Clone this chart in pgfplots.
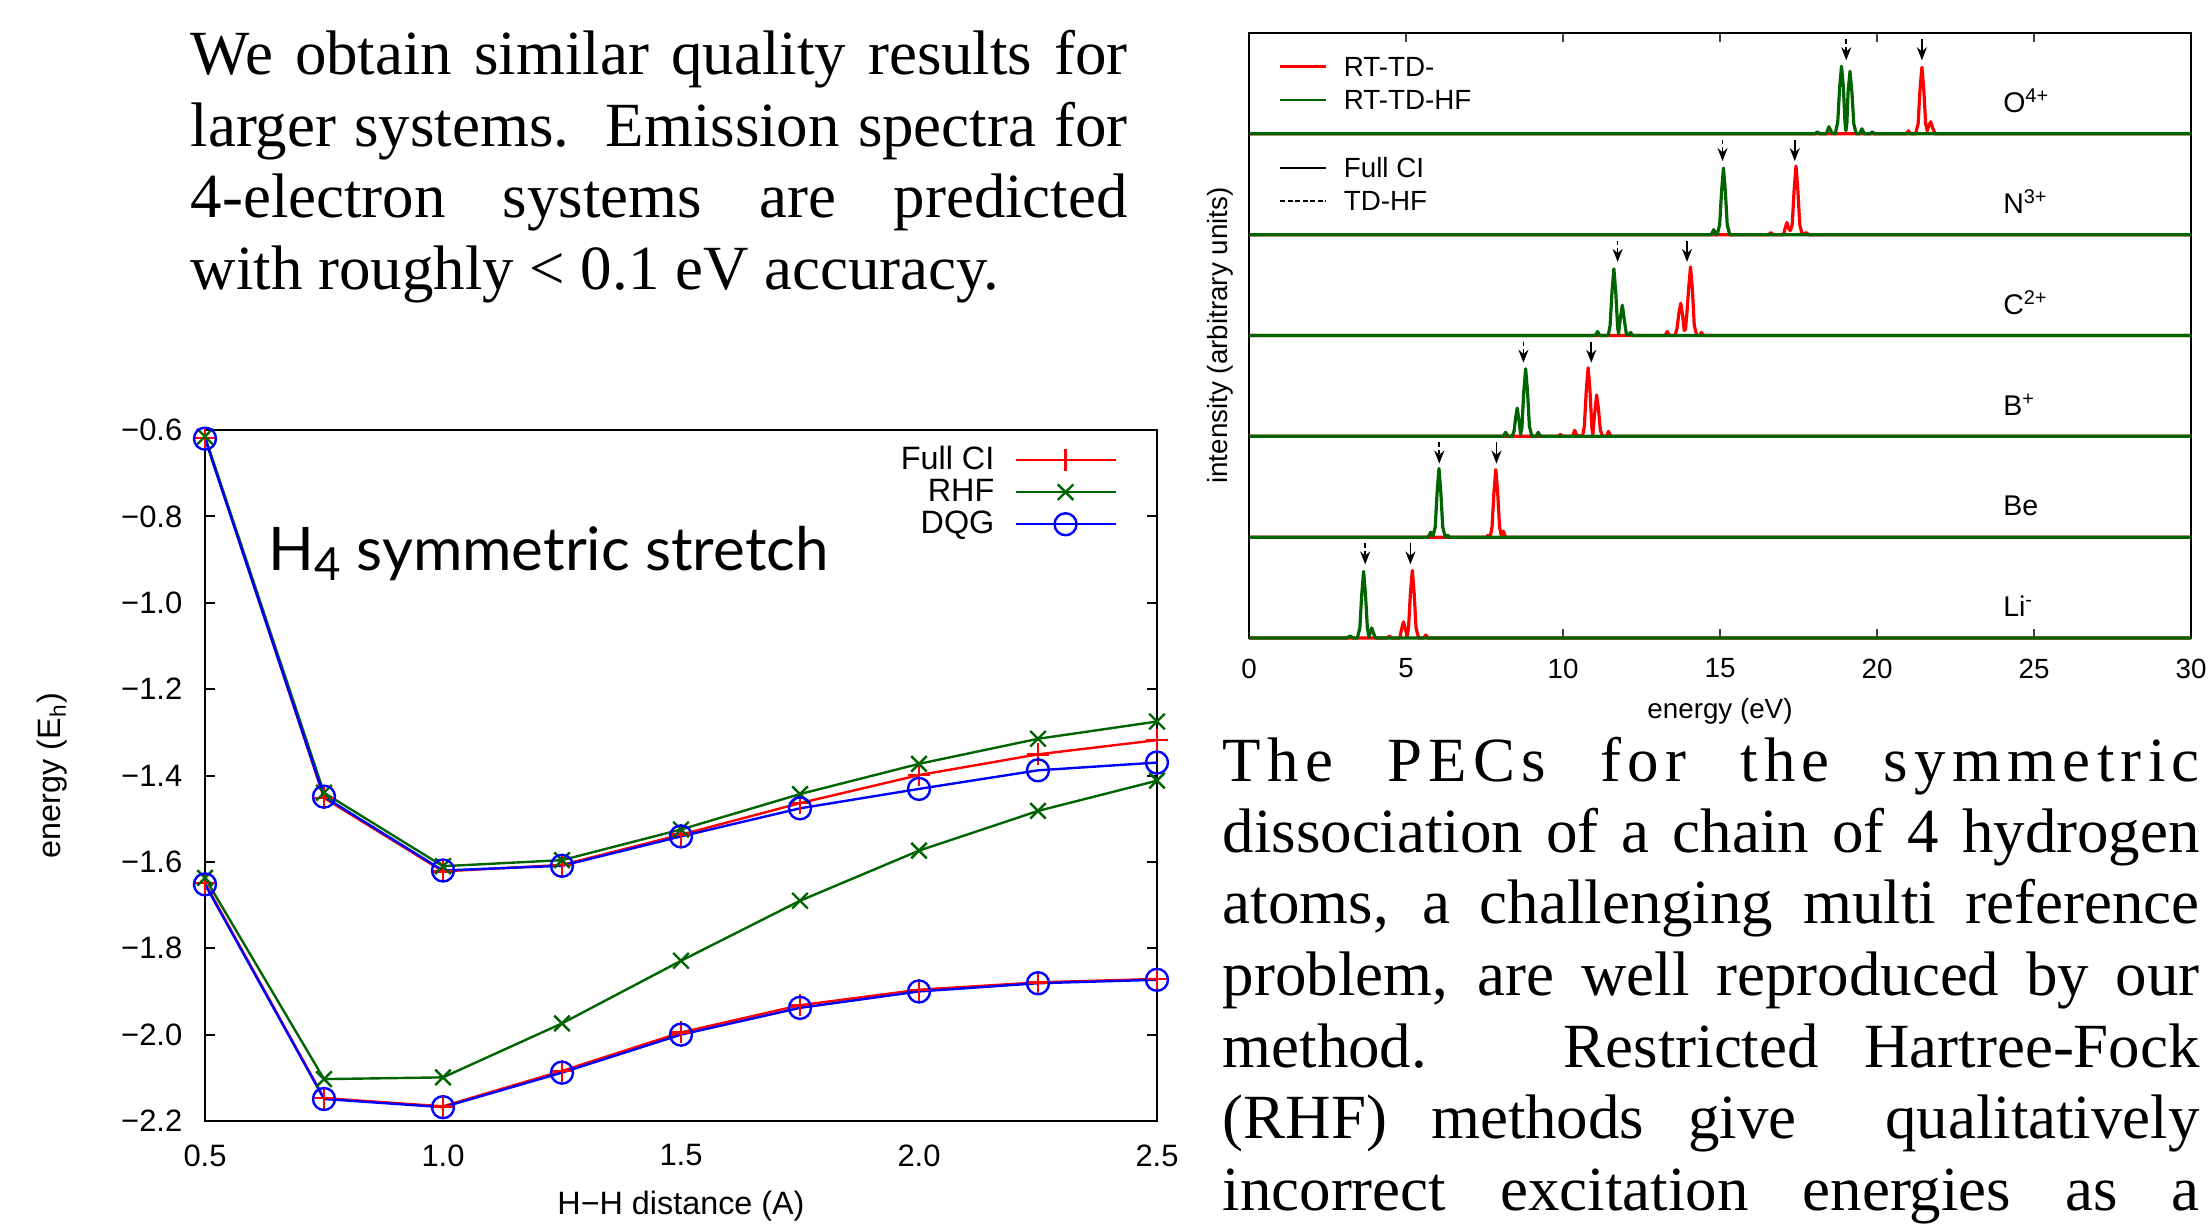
\documentclass[border=0pt]{standalone}
\usepackage{fontspec}
\setmainfont{Liberation Serif}
\newfontfamily\plotsans{Liberation Sans}
\newfontfamily\titlesans{Lato}
\usepackage{pgfplots}
\pgfplotsset{compat=1.18}
\usetikzlibrary{arrows.meta}

\definecolor{gpred}{RGB}{255,0,0}
\definecolor{gpgreen}{RGB}{0,100,0}
\definecolor{gpblue}{RGB}{0,0,255}

\newcommand{\bodytext}{\fontsize{17.9pt}{20pt}\selectfont}
\newcommand{\lefttick}{\plotsans\fontsize{8.8pt}{10pt}\selectfont}
\newcommand{\leftlab}{\plotsans\fontsize{9.2pt}{11pt}\selectfont}
\newcommand{\rightfont}{\plotsans\fontsize{7.9pt}{9pt}\selectfont}

\begin{document}
\begin{tikzpicture}
\useasboundingbox (0,0) rectangle (220.8mm,122.6mm);

% paragraph, top left
\begin{scope}[every node/.style={anchor=base west, inner sep=0pt, font=\bodytext}]
\node at (19.0mm,115.1mm) {\makebox[93.7mm][s]{We obtain similar quality results for}};
\node at (19.0mm,107.9mm) {\makebox[93.7mm][s]{larger systems.\ \ Emission spectra for}};
\node at (19.0mm,100.8mm) {\makebox[93.7mm][s]{4-electron systems are predicted}};
\node at (19.0mm,93.6mm) {with roughly < 0.1 eV accuracy.};
% paragraph, bottom right
\node at (122.2mm,44.5mm) {\makebox[97.7mm][s]{\addfontfeature{LetterSpace=10}The PECs for the symmetric}};
\node at (122.2mm,37.4mm) {\makebox[97.7mm][s]{dissociation of a chain of 4 hydrogen}};
\node at (122.2mm,30.3mm) {\makebox[97.7mm][s]{atoms, a challenging multi reference}};
\node at (122.2mm,23.1mm) {\makebox[97.7mm][s]{problem, are well reproduced by our}};
\node at (122.2mm,15.9mm) {\makebox[97.7mm][s]{method.\ \ \ Restricted Hartree-Fock}};
\node at (122.2mm,8.8mm) {\makebox[97.7mm][s]{(RHF) methods give\ \ qualitatively}};
\node at (122.2mm,1.6mm) {\makebox[97.7mm][s]{incorrect excitation energies as a}};
\end{scope}

% ---------------- H4 potential energy curves ----------------
\begin{axis}[
  at={(20.5mm,10.5mm)}, anchor=south west,
  scale only axis, width=95.2mm, height=69.1mm,
  xmin=0.5, xmax=2.5, ymin=-2.2, ymax=-0.6,
  clip=false,
  axis line style={line width=0.2mm},
  xtick={0.5,1,1.5,2,2.5}, xticklabels={0.5,1.0,1.5,2.0,2.5},
  ytick={-2.2,-2,-1.8,-1.6,-1.4,-1.2,-1,-0.8,-0.6},
  yticklabels={−2.2,−2.0,−1.8,−1.6,−1.4,−1.2,−1.0,−0.8,−0.6},
  tick align=inside, major tick length=1mm,
  xtick style={draw=none}, ytick style={line width=0.2mm, black},
  ytick pos=both,
  yticklabel style={font=\lefttick, anchor=east, inner sep=0pt, xshift=-2.2mm},
  xticklabel style={font=\lefttick, anchor=north, inner sep=0pt, yshift=-2.3mm},
  xlabel={H−H distance (A)}, ylabel={energy (E\textsubscript{h})},
  every axis x label/.style={at={(axis description cs:0.5,0)}, anchor=center, yshift=-8.5mm, font=\leftlab},
  every axis y label/.style={at={(axis description cs:0,0.5)}, xshift=-15.3mm, rotate=90, anchor=center, font=\leftlab},
  legend style={at={(rel axis cs:1,1)}, anchor=north east, xshift=-2.9mm, yshift=-0.8mm,
    draw=none, fill=none, font=\leftlab, row sep=0.3mm, column sep=2.0mm,
    nodes={inner sep=0pt, text height=2.4mm, text depth=0.5mm}},
  legend cell align=right, legend plot pos=right,
  legend image code/.code={\draw[mark repeat=2,mark phase=2,#1] plot coordinates {(0mm,0mm) (5mm,0mm) (10mm,0mm)};},
  every axis plot/.append style={line width=0.24mm, mark size=1.1mm, mark options={solid}},
]
% Full CI
\addplot[gpred, mark=+] coordinates {
  (0.5,-0.618) (0.75,-1.452) (1.0,-1.622) (1.25,-1.607) (1.5,-1.537)
  (1.75,-1.464) (2.0,-1.399) (2.25,-1.351) (2.5,-1.318)};
\addlegendentry{Full CI}
\addplot[gpred, mark=+, forget plot] coordinates {
  (0.5,-1.649) (0.75,-2.147) (1.0,-2.166) (1.25,-2.084) (1.5,-1.995)
  (1.75,-1.932) (2.0,-1.896) (2.25,-1.879) (2.5,-1.871)};
% RHF
\addplot[gpgreen, mark=x] coordinates {
  (0.5,-0.615) (0.75,-1.440) (1.0,-1.610) (1.25,-1.596) (1.5,-1.525)
  (1.75,-1.443) (2.0,-1.373) (2.25,-1.315) (2.5,-1.275)};
\addlegendentry{RHF}
\addplot[gpgreen, mark=x, forget plot] coordinates {
  (0.5,-1.637) (0.75,-2.103) (1.0,-2.099) (1.25,-1.974) (1.5,-1.829)
  (1.75,-1.690) (2.0,-1.574) (2.25,-1.482) (2.5,-1.412)};
% DQG
\addplot[gpblue, mark=o] coordinates {
  (0.5,-0.620) (0.75,-1.449) (1.0,-1.620) (1.25,-1.609) (1.5,-1.541)
  (1.75,-1.476) (2.0,-1.431) (2.25,-1.388) (2.5,-1.370)};
\addlegendentry{DQG}
\addplot[gpblue, mark=o, forget plot] coordinates {
  (0.5,-1.652) (0.75,-2.149) (1.0,-2.168) (1.25,-2.088) (1.5,-2.000)
  (1.75,-1.938) (2.0,-1.900) (2.25,-1.881) (2.5,-1.873)};
\end{axis}

% title of the PEC panel
\node[anchor=base west, inner sep=0pt, font=\titlesans\fontsize{17.1pt}{19pt}\selectfont]
  at (26.8mm,65.6mm) {H\raisebox{-0.35ex}{\fontsize{13pt}{14pt}\selectfont 4} symmetric stretch};

% ---------------- emission spectra ----------------
\begin{axis}[
  at={(124.9mm,58.8mm)}, anchor=south west,
  scale only axis, width=94.2mm, height=60.5mm,
  xmin=0, xmax=30, ymin=0, ymax=6,
  clip=false,
  axis line style={line width=0.2mm},
  xtick={0,5,...,30}, xticklabels={0,5,10,15,20,25,30},
  ytick=\empty,
  tick align=inside, major tick length=0.9mm, xtick pos=both,
  xtick style={line width=0.2mm, black!75},
  xticklabel style={font=\rightfont, anchor=north, inner sep=0pt, yshift=-2.0mm},
  xlabel={energy (eV)}, ylabel={intensity (arbitrary units)},
  every axis x label/.style={at={(axis description cs:0.5,0)}, anchor=center, yshift=-7.3mm, font=\rightfont},
  every axis y label/.style={at={(axis description cs:0,0.5)}, xshift=-2.9mm, rotate=90, anchor=center, font=\rightfont},
  every axis plot/.append style={line width=0.32mm, line join=round, no markers},
]
% RT-TD- (Full CI propagation), red
\addplot[gpred] coordinates {(0,0) (4.4,0) (4.47,0.02) (4.54,0) (4.8,0) (4.86,0.09) (4.92,0.16) (4.98,0.09) (5.04,0.02)
  (5.08,0.10) (5.14,0.44) (5.20,0.67) (5.26,0.44) (5.32,0.10) (5.40,0) (5.56,0) (5.63,0.03) (5.70,0) (30,0)};
\addplot[gpred] coordinates {(0,1) (7.55,1) (7.62,1.02) (7.68,1) (7.74,1.10) (7.80,1.44) (7.86,1.67) (7.92,1.44) (7.98,1.10)
  (8.03,1.02) (8.10,1.06) (8.17,1) (30,1)};
\addplot[gpred] coordinates {(0,2) (9.85,2) (9.92,2.02) (9.99,2) (10.30,2) (10.37,2.06) (10.44,2.01) (10.62,2) (10.68,2.10)
  (10.74,2.45) (10.80,2.68) (10.86,2.45) (10.92,2.08) (10.95,2.02) (11.00,2.20) (11.07,2.41) (11.13,2.27) (11.19,2.06)
  (11.26,2) (11.38,2) (11.45,2.05) (11.52,2) (30,2)};
\addplot[gpred] coordinates {(0,3) (13.25,3) (13.32,3.04) (13.39,3) (13.57,3) (13.63,3.07) (13.69,3.22) (13.75,3.32)
  (13.81,3.20) (13.86,3.05) (13.90,3.06) (13.94,3.20) (14.00,3.46) (14.06,3.68) (14.12,3.46) (14.18,3.10) (14.26,3)
  (14.34,3) (14.41,3.03) (14.48,3) (30,3)};
\addplot[gpred] coordinates {(0,4) (16.55,4) (16.62,4.02) (16.69,4) (17.02,4) (17.08,4.07) (17.13,4.12) (17.19,4.06)
  (17.24,4.04) (17.30,4.10) (17.36,4.44) (17.42,4.68) (17.48,4.44) (17.54,4.10) (17.62,4) (17.75,4.02) (17.82,4) (30,4)};
\addplot[gpred] coordinates {(0,5) (20.93,5) (21.00,5.03) (21.07,5) (21.23,5) (21.31,5.10) (21.37,5.44) (21.43,5.66)
  (21.49,5.44) (21.55,5.10) (21.60,5.03) (21.65,5.08) (21.71,5.12) (21.77,5.06) (21.85,5) (30,5)};
% RT-TD-HF, green
\addplot[gpgreen] coordinates {(0,0) (3.12,0) (3.22,0.02) (3.32,0) (3.45,0) (3.53,0.10) (3.59,0.43) (3.65,0.66)
  (3.71,0.43) (3.77,0.10) (3.82,0.01) (3.86,0.06) (3.91,0.10) (3.96,0.05) (4.03,0) (30,0)};
\addplot[gpgreen] coordinates {(0,1) (5.70,1) (5.79,1.05) (5.86,1.01) (5.93,1.10) (5.99,1.44) (6.05,1.68) (6.11,1.44)
  (6.17,1.10) (6.25,1) (6.32,1.02) (6.40,1) (30,1)};
\addplot[gpgreen] coordinates {(0,2) (8.10,2) (8.17,2.04) (8.25,2) (8.38,2) (8.44,2.05) (8.49,2.18) (8.54,2.28)
  (8.59,2.18) (8.65,2.02) (8.69,2.08) (8.75,2.44) (8.81,2.67) (8.87,2.44) (8.93,2.10) (9.01,2) (9.14,2) (9.21,2.04)
  (9.28,2) (30,2)};
\addplot[gpgreen] coordinates {(0,3) (11.03,3) (11.10,3.04) (11.17,3) (11.44,3) (11.50,3.10) (11.56,3.43) (11.62,3.66)
  (11.68,3.43) (11.74,3.08) (11.77,3.02) (11.82,3.16) (11.89,3.30) (11.95,3.16) (12.02,3.01) (12.08,3) (12.15,3.03)
  (12.22,3) (30,3)};
\addplot[gpgreen] coordinates {(0,4) (14.72,4) (14.80,4.05) (14.88,4) (14.91,4) (14.99,4.10) (15.05,4.43) (15.11,4.66)
  (15.17,4.43) (15.23,4.10) (15.31,4) (30,4)};
\addplot[gpgreen] coordinates {(0,5) (18.02,5) (18.10,5.02) (18.18,5) (18.38,5) (18.47,5.07) (18.56,5.01) (18.67,5)
  (18.75,5.12) (18.81,5.46) (18.87,5.67) (18.93,5.46) (18.98,5.12) (19.01,5.03) (19.04,5.10) (19.08,5.42) (19.14,5.62)
  (19.20,5.42) (19.26,5.10) (19.34,5) (19.44,5) (19.52,5.05) (19.60,5) (19.78,5) (19.85,5.02) (19.92,5) (30,5)};
% reference energies: Full CI (solid) and TD-HF (dashed)
\pgfplotsset{arr/.style={black, line width=0.16mm, -{Stealth[length=1.3mm,width=1.0mm]}}}
\addplot[arr] coordinates {(5.14,0.94) (5.14,0.73)};
\addplot[arr] coordinates {(7.88,1.94) (7.88,1.73)};
\addplot[arr] coordinates {(10.90,2.94) (10.90,2.73)};
\addplot[arr] coordinates {(13.95,3.94) (13.95,3.73)};
\addplot[arr] coordinates {(17.38,4.94) (17.38,4.73)};
\addplot[arr] coordinates {(21.43,5.94) (21.43,5.73)};
\addplot[arr, dash pattern=on 0.45mm off 0.3mm] coordinates {(3.70,0.94) (3.70,0.73)};
\addplot[arr, dash pattern=on 0.45mm off 0.3mm] coordinates {(6.06,1.94) (6.06,1.73)};
\addplot[arr, dash pattern=on 0.45mm off 0.3mm] coordinates {(8.74,2.94) (8.74,2.73)};
\addplot[arr, dash pattern=on 0.45mm off 0.3mm] coordinates {(11.74,3.94) (11.74,3.73)};
\addplot[arr, dash pattern=on 0.45mm off 0.3mm] coordinates {(15.08,4.94) (15.08,4.73)};
\addplot[arr, dash pattern=on 0.45mm off 0.3mm] coordinates {(19.02,5.94) (19.02,5.73)};
% legends
\draw[gpred, line width=0.27mm] (axis cs:0.99,5.666) -- (axis cs:2.45,5.666);
\draw[gpgreen, line width=0.27mm] (axis cs:0.99,5.336) -- (axis cs:2.45,5.336);
\draw[black, line width=0.2mm] (axis cs:0.99,4.664) -- (axis cs:2.45,4.664);
\draw[black, line width=0.2mm, dash pattern=on 0.5mm off 0.25mm] (axis cs:0.99,4.334) -- (axis cs:2.45,4.334);
\begin{scope}[every node/.style={anchor=west, inner sep=0pt, font=\rightfont}]
\node at (axis cs:3.0,5.666) {RT-TD-};
\node at (axis cs:3.0,5.336) {RT-TD-HF};
\node at (axis cs:3.0,4.664) {Full CI};
\node at (axis cs:3.0,4.334) {TD-HF};
\end{scope}
% species labels
\begin{scope}[every node/.style={anchor=base west, inner sep=0pt, font=\plotsans\fontsize{8.1pt}{9pt}\selectfont}]
\node at (axis cs:24.0,5.21) {O\textsuperscript{4+}};
\node at (axis cs:24.0,4.21) {N\textsuperscript{3+}};
\node at (axis cs:24.0,3.21) {C\textsuperscript{2+}};
\node at (axis cs:24.0,2.21) {B\textsuperscript{+}};
\node at (axis cs:24.0,1.21) {Be};
\node at (axis cs:24.0,0.21) {Li\textsuperscript{-}};
\end{scope}
\end{axis}
\end{tikzpicture}
\end{document}
